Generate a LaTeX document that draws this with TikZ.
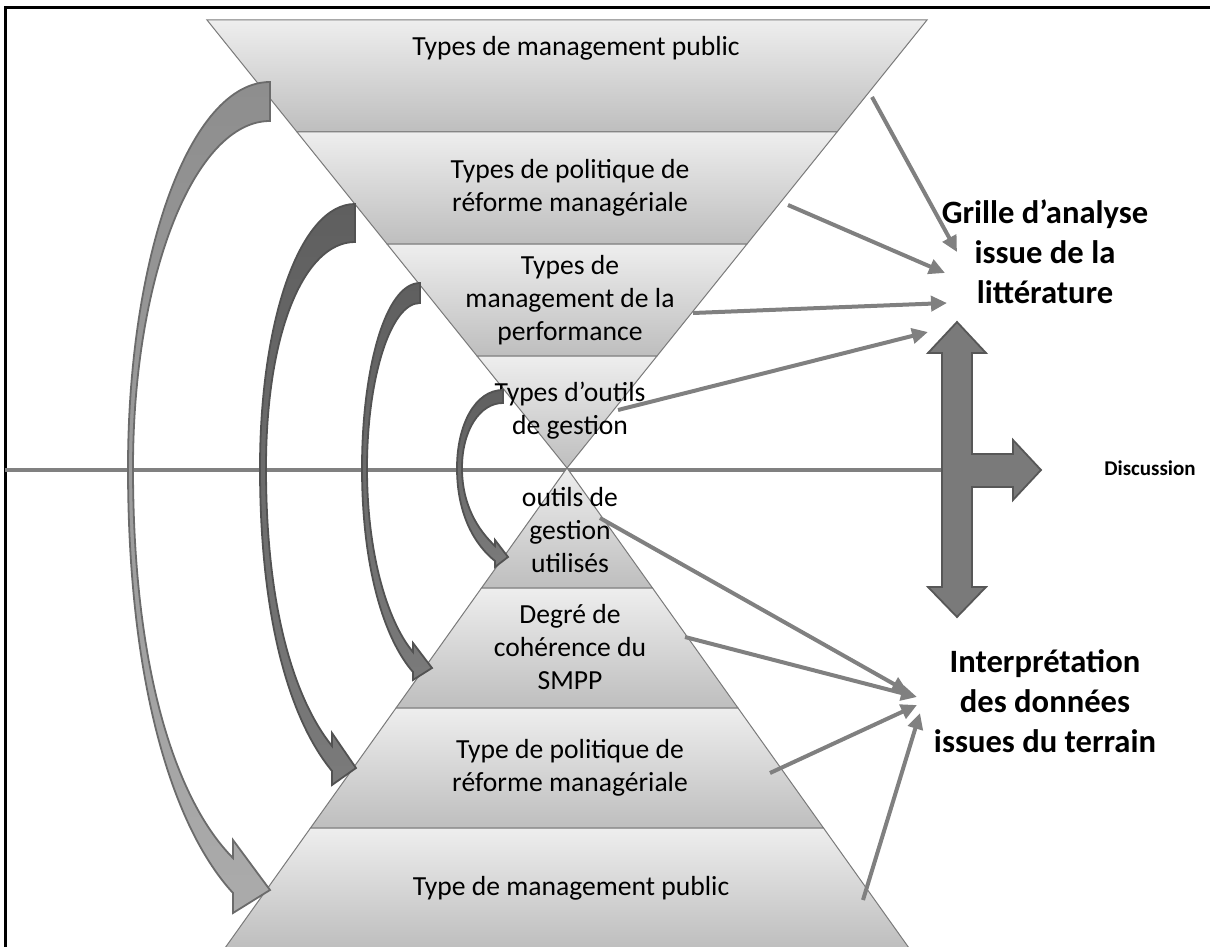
\documentclass[tikz,border=0pt]{standalone}
\usepackage{fontspec}
\setmainfont{Carlito}
\usetikzlibrary{arrows.meta}
\definecolor{bandtop}{HTML}{EEEEEE}
\definecolor{bandbot}{HTML}{BEBEBE}
\definecolor{bandline}{HTML}{7A7A7A}
\definecolor{linkgray}{HTML}{808080}
\definecolor{loopdark}{HTML}{5F5F5F}
\definecolor{looplight}{HTML}{8E8E8E}
\tikzset{
  band/.style={draw=bandline, line width=0.5pt, top color=bandtop, bottom color=bandbot},
  bandtext/.style={font=\fontsize{13.8}{16.5}\selectfont, align=center, inner sep=0pt},
  sidelabel/.style={font=\bfseries\fontsize{16.3}{20}\selectfont, align=center, inner sep=0pt},
  feed/.style={draw=linkgray, line width=2pt, -{Triangle[length=8pt,width=7.5pt]}},
  loopouter/.style={draw=black!58, line width=0.9pt, top color=looplight, bottom color=black!33},
  loopinner/.style={draw=black!68, line width=0.9pt, top color=loopdark, bottom color=black!52},
}
\begin{document}
\begin{tikzpicture}[x=0.5pt, y=-0.5pt]
\useasboundingbox (0,0) rectangle (1210,947);
% frame
\draw[line width=1.5pt] (5,947) -- (5,8) -- (1210,8);
% axis
\draw[linkgray, line width=2pt] (5,470) -- (942,470);
%============ funnel (literature)
\path[band] (207,20) -- (927,20) -- (837,132) -- (297,132) -- cycle;
\path[band] (297,132) -- (837,132) -- (747,244) -- (387,244) -- cycle;
\path[band] (387,244) -- (747,244) -- (657,356) -- (477,356) -- cycle;
\path[band] (477,356) -- (657,356) -- (567,468) -- cycle;
%============ pyramid (field)
\path[band] (567,468) -- (652.5,588) -- (481.5,588) -- cycle;
\path[band] (481.5,588) -- (652.5,588) -- (738,708) -- (396,708) -- cycle;
\path[band] (396,708) -- (738,708) -- (823.5,828) -- (310.5,828) -- cycle;
\path[band] (310.5,828) -- (823.5,828) -- (909,948) -- (225,948) -- cycle;

\node[bandtext] (mpT) at (576,48) {Types de management public};
\node[bandtext] (prT) at (570,188) {Types de politique de\\réforme managériale};
\node[bandtext] (perfT) at (570,300) {Types de\\management de la\\performance};
\node[bandtext] (outT) at (570,411) {Types d’outils\\de gestion};
\node[bandtext] (outB) at (570,530) {outils de\\gestion\\utilisés};
\node[bandtext] (cohB) at (570,647) {Degré de\\cohérence du\\SMPP};
\node[bandtext] (prB) at (570,768) {Type de politique de\\réforme managériale};
\node[bandtext] (mpB) at (571,888) {Type de management public};

%============ loops
\path[loopouter] (270,82) .. controls (190,82) and (128,255) .. (128,468)
  .. controls (128,690) and (175,830) .. (233,893)
  -- (233,913) -- (270,890) -- (233,840) -- (233,858)
  .. controls (180,805) and (133,680) .. (133,468)
  .. controls (133,275) and (195,121) .. (270,121) -- cycle;
\path[loopinner] (355,204) .. controls (300,204) and (260,320) .. (260,468)
  .. controls (260,620) and (290,720) .. (332,771)
  -- (332,785) -- (356,768) -- (332,733) -- (332,746)
  .. controls (295,700) and (266,610) .. (266,468)
  .. controls (266,330) and (305,242) .. (355,242) -- cycle;
\path[loopinner] (420,283) .. controls (385,283) and (362,370) .. (362,468)
  .. controls (362,570) and (385,640) .. (413,672)
  -- (413,680) -- (432,668) -- (413,643) -- (413,652)
  .. controls (390,625) and (367,560) .. (367,468)
  .. controls (367,380) and (390,303) .. (420,303) -- cycle;
\path[loopinner] (503,390) .. controls (475,390) and (457,425) .. (457,468)
  .. controls (457,515) and (475,545) .. (495,561)
  -- (495,567) -- (508,557) -- (495,540) -- (495,546)
  .. controls (478,530) and (462,505) .. (462,468)
  .. controls (462,430) and (480,403) .. (503,403) -- cycle;

%============ labels
\node[sidelabel] (grille) at (1045,252) {Grille d’analyse\\issue de la\\littérature};
\node[sidelabel] (interp) at (1045,701) {Interprétation\\des données\\issues du terrain};
\node[font=\bfseries\fontsize{10.5}{12}\selectfont, inner sep=0pt] (disc) at (1150,468) {Discussion};

% double arrow with discussion branch
\filldraw[fill=black!52, draw=black!66, line width=0.9pt]
  (957,322) -- (986,353) -- (972,353) -- (972,454) -- (1013,454) -- (1013,440)
  -- (1041,470) -- (1013,500) -- (1013,487) -- (972,487) -- (972,587) -- (986,587)
  -- (957,617) -- (928,587) -- (942,587) -- (942,353) -- (928,353) -- cycle;

%============ feeds
\coordinate (mpTs) at (872,97);     \coordinate (g1) at (957,252);
\coordinate (prTs) at (788,205);    \coordinate (g2) at (945,273);
\coordinate (perfTs) at (693,313);  \coordinate (g3) at (947,303);
\coordinate (outTs) at (618,410);   \coordinate (g4) at (928,332);
\coordinate (outBs) at (600,518);   \coordinate (i1) at (908,692);
\coordinate (cohBs) at (685,637);   \coordinate (i2) at (917,697);
\coordinate (prBs) at (770,773);    \coordinate (i3) at (917,705);
\coordinate (mpBs) at (863,900);    \coordinate (i4) at (920,713);
\draw[feed] (mpTs) -- (g1);
\draw[feed] (prTs) -- (g2);
\draw[feed] (perfTs) -- (g3);
\draw[feed] (outTs) -- (g4);
\draw[feed] (outBs) -- (i1);
\draw[feed] (cohBs) -- (i2);
\draw[feed] (prBs) -- (i3);
\draw[feed] (mpBs) -- (i4);
\end{tikzpicture}
\end{document}
